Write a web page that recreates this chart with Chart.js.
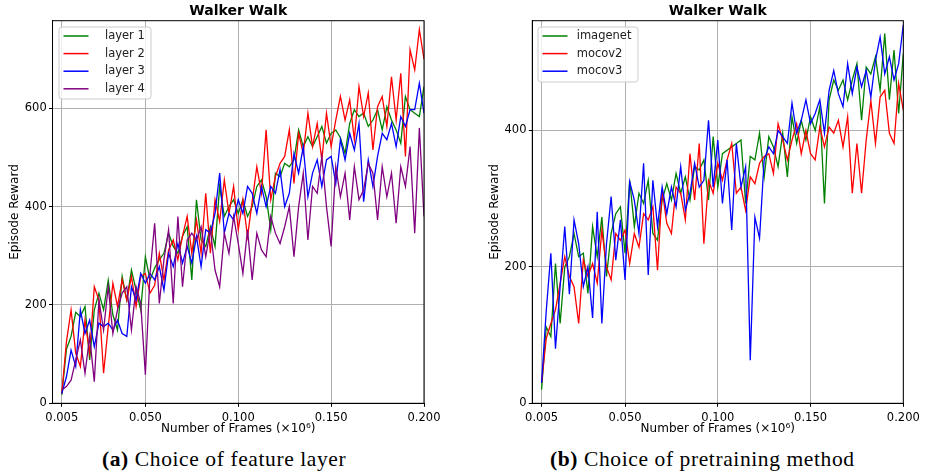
<!DOCTYPE html>
<html>
<head>
<meta charset="utf-8">
<title>Walker Walk</title>
<script src="https://cdn.jsdelivr.net/npm/chart.js@4.4.1/dist/chart.umd.min.js"></script>
<style>
  body { margin: 0; background: #fff; width: 925px; height: 476px; position: relative; overflow: hidden; }
  canvas { position: absolute; top: 0; }
  #chartA { left: 0; }
  #chartB { left: 462px; }
  .caption {
    position: absolute; top: 447px; white-space: nowrap; color: #000;
    font-family: "Liberation Serif", serif; font-size: 21.5px; letter-spacing: 0.6px; line-height: 24px;
  }
</style>
</head>
<body>
<canvas id="chartA" width="462" height="440"></canvas>
<canvas id="chartB" width="463" height="440"></canvas>
<div class="caption" style="left:102px"><b>(a)</b> Choice of feature layer</div>
<div class="caption" style="left:550px"><b>(b)</b> Choice of pretraining method</div>

<script>
// x positions, in thousands of frames
const frames = [
  5, 7.5, 10, 12.5, 15, 17.5, 20, 22.5, 25, 27.5,
  30, 32.5, 35, 37.5, 40, 42.5, 45, 47.5, 50, 52.5,
  55, 57.5, 60, 62.5, 65, 67.5, 70, 72.5, 75, 77.5,
  80, 82.5, 85, 87.5, 90, 92.5, 95, 97.5, 100, 102.5,
  105, 107.5, 110, 112.5, 115, 117.5, 120, 122.5, 125, 127.5,
  130, 132.5, 135, 137.5, 140, 142.5, 145, 147.5, 150, 152.5,
  155, 157.5, 160, 162.5, 165, 167.5, 170, 172.5, 175, 177.5,
  180, 182.5, 185, 187.5, 190, 192.5, 195, 197.5, 200
]

const xTicks = [0.005, 0.05, 0.1, 0.15, 0.2]
const xTickLabels = ["0.005", "0.050", "0.100", "0.150", "0.200"]
const yTicksA = [0, 200, 400, 600]
const yTicksB = [0, 200, 400]

// (a) feature layer
const layer1 = [
  17, 110, 136, 185, 176, 197, 88, 190, 224, 190,
  250, 180, 149, 258, 210, 271, 230, 190, 298, 251,
  275, 292, 305, 346, 319, 305, 340, 359, 251, 414,
  332, 319, 359, 319, 441, 380, 400, 414, 386, 414,
  380, 400, 441, 454, 420, 353, 468, 461, 488, 481,
  495, 556, 522, 542, 522, 542, 563, 529, 549, 556,
  540, 508, 569, 597, 583, 590, 563, 576, 597, 556,
  603, 576, 556, 529, 624, 597, 590, 583, 644
]
const layer2 = [
  20, 125, 190, 102, 75, 169, 102, 237, 210, 61,
  156, 244, 197, 251, 210, 258, 197, 258, 264, 224,
  240, 305, 251, 312, 332, 292, 340, 380, 305, 373,
  305, 427, 305, 414, 370, 454, 386, 441, 353, 414,
  339, 410, 481, 427, 556, 414, 461, 488, 502, 556,
  447, 549, 508, 590, 522, 569, 495, 590, 522, 576,
  624, 576, 617, 536, 644, 583, 631, 515, 603, 624,
  563, 664, 576, 671, 502, 719, 678, 760, 700
]
const layer3 = [
  20, 54, 108, 75, 190, 142, 169, 115, 163, 156,
  163, 149, 169, 142, 136, 237, 210, 264, 244, 264,
  251, 278, 230, 305, 278, 325, 285, 319, 285, 339,
  278, 353, 346, 386, 468, 346, 386, 373, 414, 386,
  441, 427, 386, 441, 400, 441, 427, 475, 400, 427,
  508, 468, 522, 420, 468, 495, 441, 495, 502, 447,
  536, 495, 549, 515, 569, 410, 495, 441, 502, 549,
  536, 569, 522, 583, 563, 597, 597, 651, 590
]
const layer4 = [
  27, 34, 47, 88, 129, 61, 136, 44, 210, 149,
  237, 142, 190, 224, 237, 149, 237, 203, 58, 264,
  366, 203, 292, 353, 203, 380, 237, 332, 346, 332,
  359, 298, 353, 271, 237, 346, 305, 380, 325, 264,
  353, 251, 346, 312, 298, 380, 346, 325, 359, 400,
  298, 400, 468, 332, 441, 427, 502, 400, 319, 481,
  420, 468, 373, 481, 414, 434, 488, 468, 373, 481,
  420, 468, 366, 481, 441, 522, 346, 560, 380
]

// (b) pretraining method
const imagenet = [
  20, 112, 98, 205, 117, 200, 215, 249, 215, 220,
  161, 259, 215, 273, 186, 249, 278, 288, 220, 327,
  259, 308, 293, 327, 249, 239, 298, 322, 298, 337,
  308, 332, 298, 347, 342, 357, 298, 391, 317, 366,
  371, 376, 381, 386, 293, 362, 357, 396, 332, 391,
  376, 347, 396, 332, 420, 381, 415, 386, 420, 400,
  435, 293, 445, 474, 459, 474, 445, 474, 498, 415,
  493, 483, 508, 459, 542, 445, 518, 425, 513
]
const mocov2 = [
  30, 95, 117, 137, 176, 215, 186, 171, 117, 210,
  186, 205, 176, 254, 200, 181, 249, 239, 254, 205,
  249, 229, 278, 269, 288, 195, 313, 264, 249, 317,
  308, 269, 366, 298, 381, 234, 327, 308, 352, 327,
  357, 381, 308, 317, 283, 332, 322, 352, 362, 366,
  337, 410, 386, 357, 386, 410, 366, 400, 366, 357,
  405, 376, 405, 396, 415, 376, 420, 308, 381, 308,
  386, 444, 381, 449, 459, 396, 381, 469, 430
]
const mocov3 = [
  30, 135, 220, 80, 171, 259, 160, 269, 234, 171,
  200, 125, 281, 117, 234, 303, 210, 269, 181, 325,
  298, 249, 352, 188, 327, 259, 317, 278, 317, 288,
  347, 283, 308, 352, 317, 327, 415, 317, 386, 293,
  357, 254, 381, 317, 347, 63, 273, 242, 357, 376,
  366, 400, 391, 381, 440, 396, 415, 445, 410, 425,
  445, 396, 459, 488, 454, 435, 498, 454, 493, 464,
  488, 449, 503, 537, 483, 508, 474, 498, 555
]

const family = "'DejaVu Sans', sans-serif"

// black box round the plot area (matplotlib spines)
const frameBox = {
  id: "frameBox",
  afterDatasetsDraw(chart) {
    const { ctx, chartArea: a } = chart
    ctx.save()
    ctx.strokeStyle = "#000"
    ctx.lineWidth = 1
    ctx.strokeRect(a.left, a.top, a.right - a.left, a.bottom - a.top)
    ctx.restore()
  }
}

// legend box inside the plot, upper left
const boxLegend = {
  id: "boxLegend",
  afterDraw(chart, args, opts) {
    const { ctx, chartArea: a } = chart
    const sets = chart.data.datasets
    const x = a.left + opts.dx
    const y = a.top + opts.dy
    const h = sets.length * opts.row + opts.pad
    ctx.save()
    ctx.fillStyle = "rgba(255,255,255,0.8)"
    ctx.strokeStyle = "#cccccc"
    ctx.lineWidth = 1
    ctx.beginPath()
    ctx.roundRect(x, y, opts.width, h, 3)
    ctx.fill()
    ctx.stroke()
    ctx.font = "11.5px " + family
    ctx.textBaseline = "middle"
    sets.forEach((ds, i) => {
      const cy = y + opts.first + i * opts.row
      ctx.strokeStyle = ds.borderColor
      ctx.lineWidth = 1.5
      ctx.beginPath()
      ctx.moveTo(x + 4.5, cy)
      ctx.lineTo(x + 29.5, cy)
      ctx.stroke()
      ctx.fillStyle = "#222"
      ctx.fillText(ds.label, x + opts.textX, cy)
    })
    ctx.restore()
  }
}

function makeChart(id, cfg) {
  const n = cfg.series.length
  return new Chart(document.getElementById(id), {
    type: "line",
    data: {
      datasets: cfg.series.map((s, i) => ({
        label: s.label,
        data: frames.map((f, j) => ({ x: f / 1000, y: s.values[j] })),
        borderColor: s.color,
        borderWidth: 1.3,
        pointRadius: 0,
        tension: 0,
        fill: false,
        order: n - i
      }))
    },
    options: {
      responsive: false,
      animation: false,
      events: [],
      layout: { padding: { left: 0, right: cfg.padRight, top: 0, bottom: 0 } },
      plugins: {
        legend: { display: false },
        tooltip: { enabled: false },
        title: {
          display: true,
          text: "Walker Walk",
          fullSize: false,
          color: "#000",
          font: { family, size: 14, weight: "bold", lineHeight: 1.2 },
          padding: { top: 2.8, bottom: 1.1 }
        },
        boxLegend: cfg.legend
      },
      scales: {
        x: {
          type: "linear",
          min: 0,
          max: 0.2,
          afterFit(s) { s.height = 36.7 },
          afterBuildTicks(s) { s.ticks = xTicks.map(v => ({ value: v })) },
          ticks: {
            callback: (v, i) => xTickLabels[i],
            color: "#000",
            font: { family, size: 11.5 },
            padding: 4.5,
            maxRotation: 0,
            minRotation: 0,
            autoSkip: false
          },
          grid: { color: "#b0b0b0", lineWidth: 1, tickColor: "#000", tickLength: 3.5 },
          border: { color: "#000", width: 1 },
          title: {
            display: true,
            text: "Number of Frames (×10⁶)",
            color: "#000",
            font: { family, size: 12, lineHeight: 1.2 },
            padding: { top: 0, bottom: 3.5 }
          }
        },
        y: {
          min: 0,
          max: cfg.yMax,
          afterFit(s) { s.width = cfg.yWidth },
          afterBuildTicks(s) { s.ticks = cfg.yTicks.map(v => ({ value: v })) },
          ticks: { color: "#000", font: { family, size: 11.5 }, padding: 2.3 },
          grid: { color: "#b0b0b0", lineWidth: 1, tickColor: "#000", tickLength: 3.5 },
          border: { color: "#000", width: 1 },
          title: {
            display: true,
            text: "Episode Reward",
            color: "#000",
            font: { family, size: 12, lineHeight: 1.2 },
            padding: { top: cfg.yTitlePad, bottom: 0 }
          }
        }
      }
    },
    plugins: [frameBox, boxLegend]
  })
}

makeChart("chartA", {
  series: [
    { label: "layer 1", values: layer1, color: "#008000" },
    { label: "layer 2", values: layer2, color: "#ff0000" },
    { label: "layer 3", values: layer3, color: "#0000ff" },
    { label: "layer 4", values: layer4, color: "#800080" }
  ],
  yMax: 778,
  yTicks: yTicksA,
  yWidth: 52.5,
  yTitlePad: 7.8,
  padRight: 38,
  legend: { dx: 6.5, dy: 6.3, width: 92, row: 17.6, first: 9, pad: 1.6, textX: 46 }
})

makeChart("chartB", {
  series: [
    { label: "imagenet", values: imagenet, color: "#008000" },
    { label: "mocov2", values: mocov2, color: "#ff0000" },
    { label: "mocov3", values: mocov3, color: "#0000ff" }
  ],
  yMax: 561,
  yTicks: yTicksB,
  yWidth: 70.3,
  yTitlePad: 25.8,
  padRight: 21.7,
  legend: { dx: 5.7, dy: 6.3, width: 100, row: 17.6, first: 9, pad: 2.2, textX: 38.7 }
})
</script>
</body>
</html>
